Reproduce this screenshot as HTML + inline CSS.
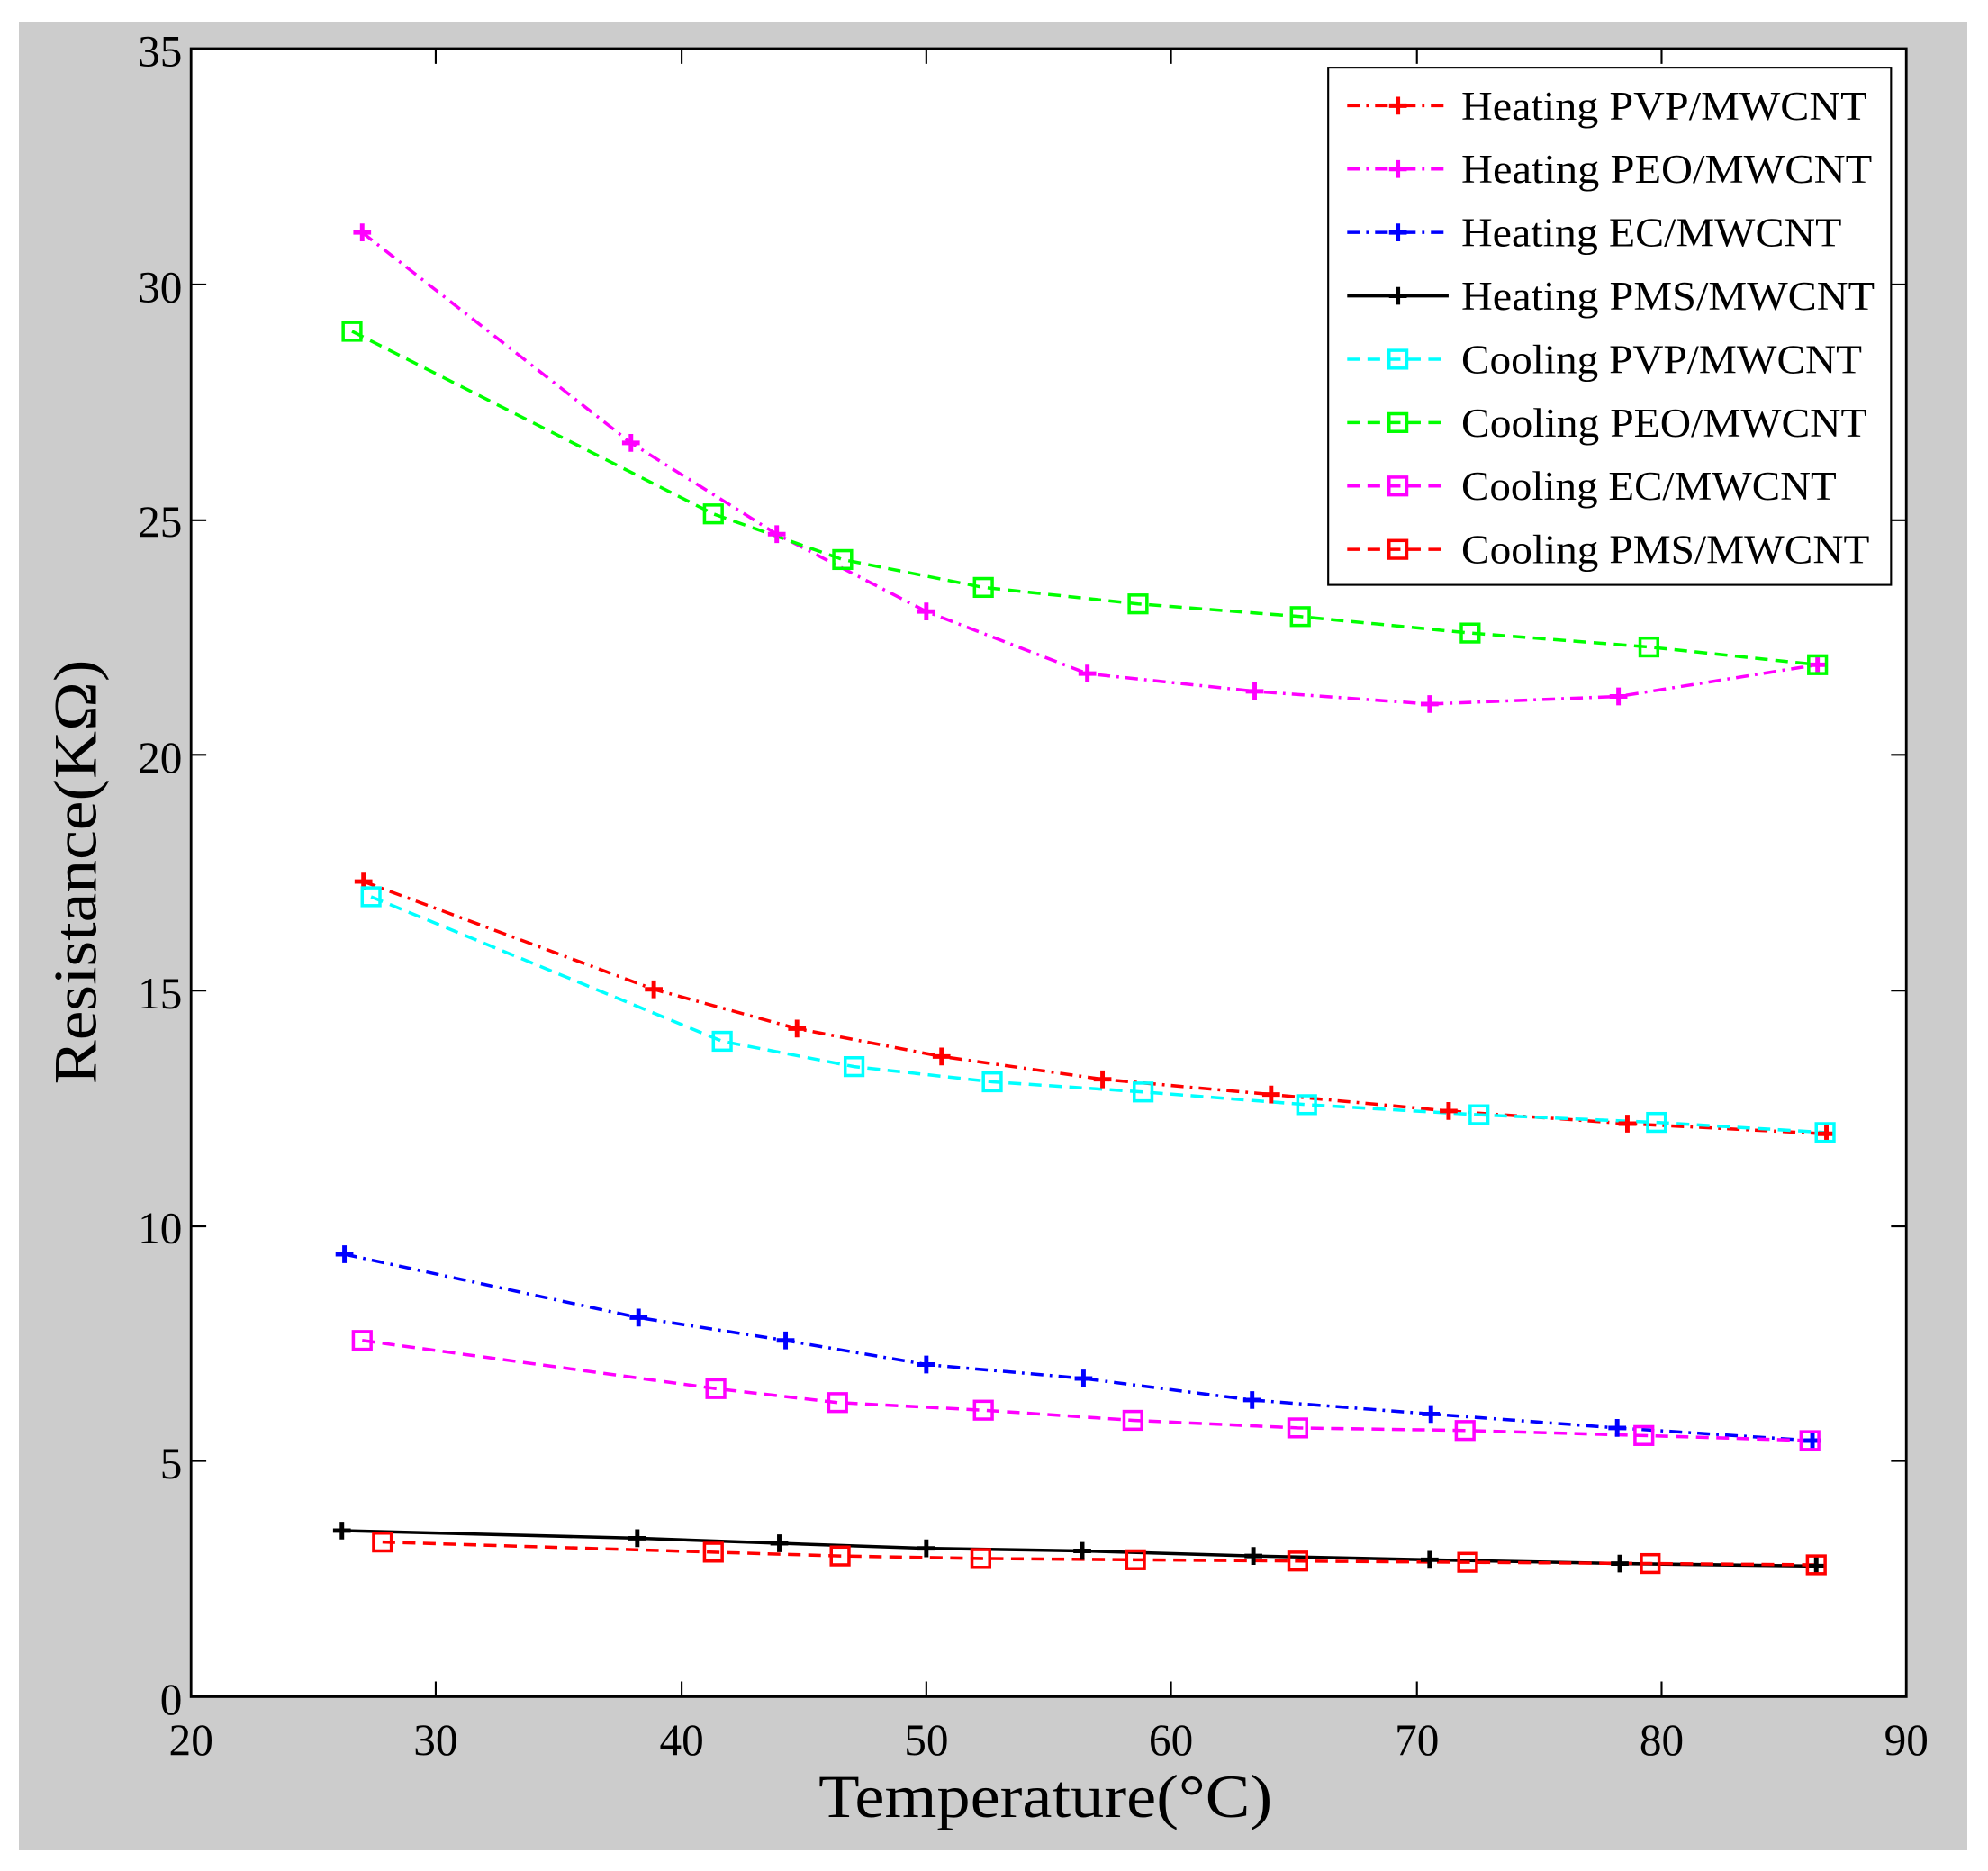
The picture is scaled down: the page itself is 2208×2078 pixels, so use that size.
<!DOCTYPE html>
<html><head><meta charset="utf-8"><style>html,body{margin:0;padding:0;background:#fff}svg{display:block}</style></head>
<body>
<svg width="2208" height="2078" viewBox="0 0 2208 2078" xmlns="http://www.w3.org/2000/svg">
<defs>
<g id="p"><path d="M-7,0H7M0,-7V7" stroke-width="3.5"/></g>
<g id="s"><rect x="-7" y="-7" width="14" height="14" fill="none" stroke-width="2.5"/></g>
</defs>
<rect x="21" y="24" width="2164" height="2031" fill="#cccccc"/>
<g transform="translate(1,0.5) scale(1.408)" font-family="'Liberation Serif',serif">
<rect x="150" y="38" width="1353" height="1300" fill="#fff"/>
<g stroke="#000" stroke-width="1.5">
<path d="M343,1338v-12M537,1338v-12M730,1338v-12M923,1338v-12M1117,1338v-12M1310,1338v-12M343,38v12M537,38v12M730,38v12M923,38v12M1117,38v12M1310,38v12"/>
<path d="M150,1152h12M150,967h12M150,781h12M150,595h12M150,410h12M150,224h12M1503,1152h-12M1503,967h-12M1503,781h-12M1503,595h-12M1503,410h-12M1503,224h-12"/>
</g>
<g font-size="35" fill="#000">
<g text-anchor="end">
<text x="143" y="1352">0</text><text x="143" y="1166">5</text><text x="143" y="980">10</text><text x="143" y="795">15</text><text x="143" y="609">20</text><text x="143" y="423">25</text><text x="143" y="238">30</text><text x="143" y="52">35</text>
</g>
<g text-anchor="middle">
<text x="150" y="1384">20</text><text x="343" y="1384">30</text><text x="537" y="1384">40</text><text x="730" y="1384">50</text><text x="923" y="1384">60</text><text x="1117" y="1384">70</text><text x="1310" y="1384">80</text><text x="1503" y="1384">90</text>
</g>
<text x="645" y="1433" font-size="48" textLength="358" lengthAdjust="spacingAndGlyphs">Temperature(°C)</text>
<text transform="translate(75,855) rotate(-90)" font-size="48" textLength="335" lengthAdjust="spacingAndGlyphs">Resistance(KΩ)</text>
</g>
<g fill="none" stroke-width="2.5">
<polyline stroke="#ff0000" stroke-dasharray="10,5,2,5" points="286,695 515,780 628,811 742,833 869,851 1002,863 1142,876 1283,886 1440,894"/>
<polyline stroke="#ff00ff" stroke-dasharray="10,5,2,5" points="285,183 497,349 612,421 730,482 857,531 989,545 1127,555 1276,549 1433,524"/>
<polyline stroke="#0000ff" stroke-dasharray="10,5,2,5" points="271,989 503,1039 619,1057 730,1076 854,1087 987,1104 1128,1115 1275,1126 1429,1136"/>
<polyline stroke="#000" points="269,1207 502,1213 614,1217 730,1221 853,1223 988,1227 1127,1230 1277,1233 1432,1235"/>
<polyline stroke="#00ffff" stroke-dasharray="10,6" points="292,707 569,821 673,841 782,853 901,861 1030,871 1166,879 1306,885 1439,893"/>
<polyline stroke="#00ff00" stroke-dasharray="10,6" points="277,261 562,405 664,441 775,463 897,476 1025,486 1159,499 1300,510 1433,524"/>
<polyline stroke="#ff00ff" stroke-dasharray="10,6" points="285,1057 564,1095 660,1106 775,1112 893,1120 1023,1126 1155,1128 1296,1132 1427,1136"/>
<polyline stroke="#ff0000" stroke-dasharray="10,6" points="301,1216 562,1224 662,1227 773,1229 895,1230 1023,1231 1157,1232 1301,1233 1432,1234"/>
</g>
<g stroke="#ff0000"><use href="#p" x="286" y="695"/><use href="#p" x="515" y="780"/><use href="#p" x="628" y="811"/><use href="#p" x="742" y="833"/><use href="#p" x="869" y="851"/><use href="#p" x="1002" y="863"/><use href="#p" x="1142" y="876"/><use href="#p" x="1283" y="886"/><use href="#p" x="1440" y="894"/></g>
<g stroke="#ff00ff"><use href="#p" x="285" y="183"/><use href="#p" x="497" y="349"/><use href="#p" x="612" y="421"/><use href="#p" x="730" y="482"/><use href="#p" x="857" y="531"/><use href="#p" x="989" y="545"/><use href="#p" x="1127" y="555"/><use href="#p" x="1276" y="549"/><use href="#p" x="1433" y="524"/></g>
<g stroke="#0000ff"><use href="#p" x="271" y="989"/><use href="#p" x="503" y="1039"/><use href="#p" x="619" y="1057"/><use href="#p" x="730" y="1076"/><use href="#p" x="854" y="1087"/><use href="#p" x="987" y="1104"/><use href="#p" x="1128" y="1115"/><use href="#p" x="1275" y="1126"/><use href="#p" x="1429" y="1136"/></g>
<g stroke="#000"><use href="#p" x="269" y="1207"/><use href="#p" x="502" y="1213"/><use href="#p" x="614" y="1217"/><use href="#p" x="730" y="1221"/><use href="#p" x="853" y="1223"/><use href="#p" x="988" y="1227"/><use href="#p" x="1127" y="1230"/><use href="#p" x="1277" y="1233"/><use href="#p" x="1432" y="1235"/></g>
<g stroke="#00ffff"><use href="#s" x="292" y="707"/><use href="#s" x="569" y="821"/><use href="#s" x="673" y="841"/><use href="#s" x="782" y="853"/><use href="#s" x="901" y="861"/><use href="#s" x="1030" y="871"/><use href="#s" x="1166" y="879"/><use href="#s" x="1306" y="885"/><use href="#s" x="1439" y="893"/></g>
<g stroke="#00ff00"><use href="#s" x="277" y="261"/><use href="#s" x="562" y="405"/><use href="#s" x="664" y="441"/><use href="#s" x="775" y="463"/><use href="#s" x="897" y="476"/><use href="#s" x="1025" y="486"/><use href="#s" x="1159" y="499"/><use href="#s" x="1300" y="510"/><use href="#s" x="1433" y="524"/></g>
<g stroke="#ff00ff"><use href="#s" x="285" y="1057"/><use href="#s" x="564" y="1095"/><use href="#s" x="660" y="1106"/><use href="#s" x="775" y="1112"/><use href="#s" x="893" y="1120"/><use href="#s" x="1023" y="1126"/><use href="#s" x="1155" y="1128"/><use href="#s" x="1296" y="1132"/><use href="#s" x="1427" y="1136"/></g>
<g stroke="#ff0000"><use href="#s" x="301" y="1216"/><use href="#s" x="562" y="1224"/><use href="#s" x="662" y="1227"/><use href="#s" x="773" y="1229"/><use href="#s" x="895" y="1230"/><use href="#s" x="1023" y="1231"/><use href="#s" x="1157" y="1232"/><use href="#s" x="1301" y="1233"/><use href="#s" x="1432" y="1234"/></g>
<rect x="150" y="38" width="1353" height="1300" fill="none" stroke="#000" stroke-width="2"/>
<rect x="1047" y="53" width="444" height="408" fill="#fff" stroke="#000" stroke-width="1.5"/>
<g fill="none" stroke-width="2.5">
<path d="M1062,83h80" stroke="#ff0000" stroke-dasharray="10,5,2,5"/>
<path d="M1062,133h80" stroke="#ff00ff" stroke-dasharray="10,5,2,5"/>
<path d="M1062,183h80" stroke="#0000ff" stroke-dasharray="10,5,2,5"/>
<path d="M1062,233h80" stroke="#000"/>
<path d="M1062,283h80" stroke="#00ffff" stroke-dasharray="10,6"/>
<path d="M1062,333h80" stroke="#00ff00" stroke-dasharray="10,6"/>
<path d="M1062,383h80" stroke="#ff00ff" stroke-dasharray="10,6"/>
<path d="M1062,433h80" stroke="#ff0000" stroke-dasharray="10,6"/>
</g>
<use href="#p" x="1102" y="83" stroke="#ff0000"/><use href="#p" x="1102" y="133" stroke="#ff00ff"/><use href="#p" x="1102" y="183" stroke="#0000ff"/><use href="#p" x="1102" y="233" stroke="#000"/>
<use href="#s" x="1102" y="283" stroke="#00ffff"/><use href="#s" x="1102" y="333" stroke="#00ff00"/><use href="#s" x="1102" y="383" stroke="#ff00ff"/><use href="#s" x="1102" y="433" stroke="#ff0000"/>
<g font-size="32" fill="#000" lengthAdjust="spacingAndGlyphs">
<text x="1152" y="94" textLength="320" lengthAdjust="spacingAndGlyphs">Heating PVP/MWCNT</text>
<text x="1152" y="144" textLength="324" lengthAdjust="spacingAndGlyphs">Heating PEO/MWCNT</text>
<text x="1152" y="194" textLength="300" lengthAdjust="spacingAndGlyphs">Heating EC/MWCNT</text>
<text x="1152" y="244" textLength="326" lengthAdjust="spacingAndGlyphs">Heating PMS/MWCNT</text>
<text x="1152" y="294" textLength="316" lengthAdjust="spacingAndGlyphs">Cooling PVP/MWCNT</text>
<text x="1152" y="344" textLength="320" lengthAdjust="spacingAndGlyphs">Cooling PEO/MWCNT</text>
<text x="1152" y="394" textLength="296" lengthAdjust="spacingAndGlyphs">Cooling EC/MWCNT</text>
<text x="1152" y="444" textLength="322" lengthAdjust="spacingAndGlyphs">Cooling PMS/MWCNT</text>
</g>
</g>
</svg>
</body></html>
